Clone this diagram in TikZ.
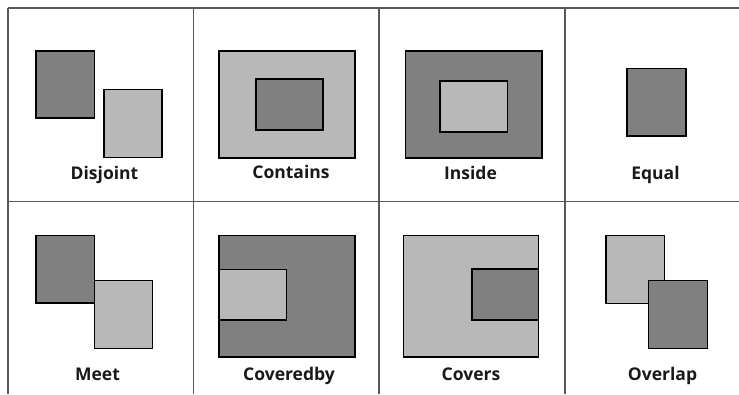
\documentclass[tikz,border=0pt]{standalone}
\usepackage{fontspec}
\setmainfont{Open Sans}
\begin{document}
\begin{tikzpicture}[x=1pt,y=-1pt,
  gridline/.style={draw=black!65,line width=1.1pt},
  darkbox/.style={fill=dgray,draw=black,line width=1.8pt},
  lightbox/.style={fill=lgray,draw=black,line width=1.8pt},
  lbl/.style={font=\fontsize{17.5}{19}\selectfont\bfseries,text=black!90,inner sep=0pt,anchor=base}]
\definecolor{dgray}{HTML}{808080}
\definecolor{lgray}{HTML}{B8B8B8}
\useasboundingbox (0,0) rectangle (739,394);
% grid
\draw[gridline] (8,8) -- (739,8);
\draw[gridline] (8,201.5) -- (739,201.5);
\foreach \x in {8,193.5,379,565} \draw[gridline] (\x,8) -- (\x,394);
% Disjoint
\draw[darkbox] (36,51) rectangle (94.5,118);
\draw[lightbox] (104,89.5) rectangle (162,157.5);
\node[lbl] (disjoint) at (104.5,179.5) {Disjoint};
% Contains
\draw[lightbox] (219,51) rectangle (355,158);
\draw[darkbox] (256,79) rectangle (323,130);
\node[lbl] (contains) at (291,178) {Contains};
% Inside
\draw[darkbox] (405.5,51) rectangle (542,158);
\draw[lightbox] (440,81) rectangle (507.5,132);
\node[lbl] (inside) at (470.5,179) {Inside};
% Equal
\draw[darkbox] (627,68.5) rectangle (686,136);
\node[lbl] (equal) at (655.5,179) {Equal};
% Meet
\draw[darkbox] (36,235.5) rectangle (94.5,303);
\draw[lightbox] (94.5,280.5) rectangle (152.5,348.5);
\node[lbl] (meet) at (97.5,380) {Meet};
% Coveredby
\draw[darkbox] (219,235.5) rectangle (355,357);
\draw[lightbox] (219,269.5) rectangle (286.5,320);
\node[lbl] (coveredby) at (289,380) {Coveredby};
% Covers
\draw[lightbox] (403.5,235.5) rectangle (538.5,357);
\draw[darkbox] (472,269) rectangle (538.5,320);
\node[lbl] (covers) at (471,380) {Covers};
% Overlap
\draw[lightbox] (606,235.5) rectangle (664.5,303.5);
\draw[darkbox] (648.5,280.5) rectangle (707.5,348.5);
\node[lbl] (overlap) at (662.5,380) {Overlap};
\end{tikzpicture}
\end{document}
